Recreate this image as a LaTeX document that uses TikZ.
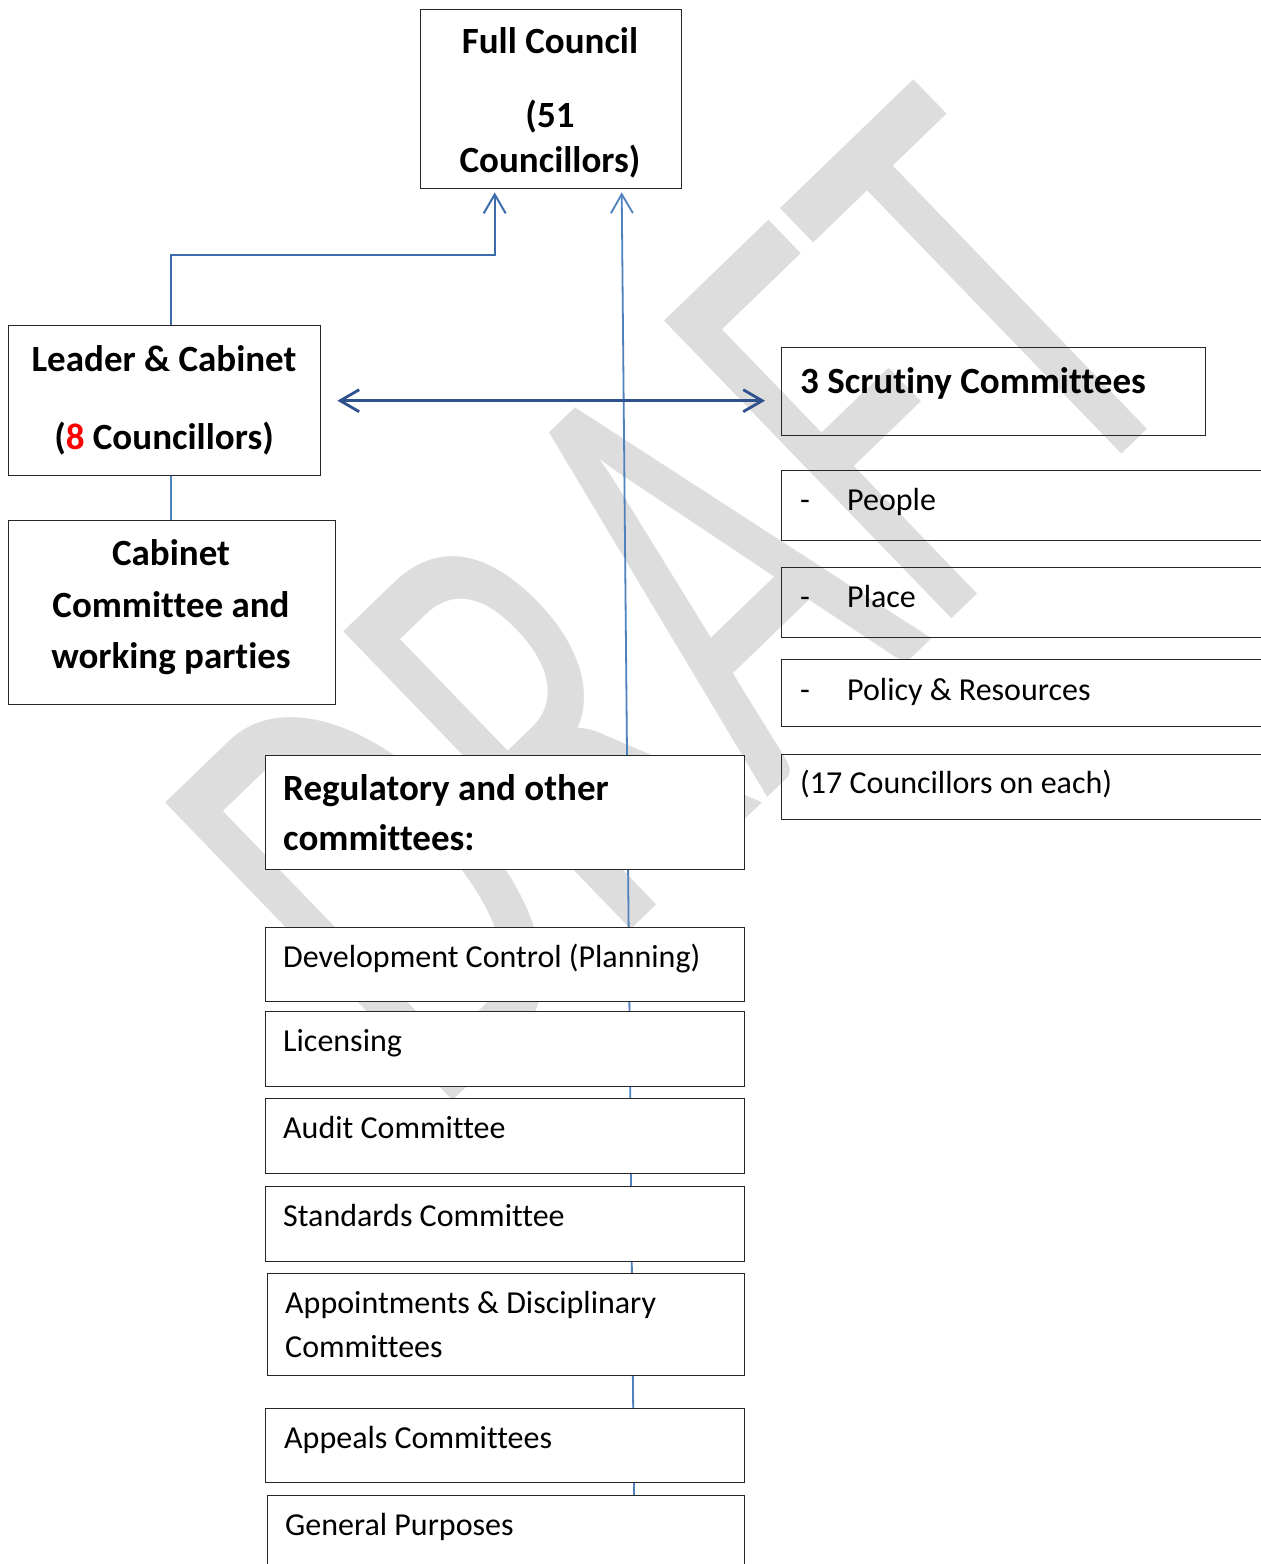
\documentclass[tikz,border=0pt]{standalone}
\usepackage{fontspec}
\setmainfont{Carlito}[Ligatures={NoCommon}]
\usetikzlibrary{arrows.meta}
\definecolor{wm}{RGB}{221,221,221}
\definecolor{boxline}{RGB}{38,38,38}
\definecolor{elbowblue}{RGB}{62,108,172}
\definecolor{vblue}{RGB}{79,129,189}
\definecolor{hblue}{RGB}{47,82,143}
\begin{document}
\begin{tikzpicture}[x=1pt,y=-1pt,
  box/.style={draw=boxline, line width=1.4pt, fill=white, anchor=north west, inner sep=0pt},
  obox/.style={draw=boxline, line width=1.4pt, anchor=north west, inner sep=0pt},
  bt/.style={font=\fontsize{37}{42}\selectfont\bfseries, inner sep=0pt, anchor=base},
  btl/.style={font=\fontsize{37}{42}\selectfont\bfseries, inner sep=0pt, anchor=base west},
  rt/.style={font=\fontsize{32}{38}\selectfont, inner sep=0pt, anchor=base west},
  elbow/.style={draw=elbowblue, line width=2pt, -{Straight Barb[length=19pt,width=22pt]}},
  cline/.style={draw=vblue, line width=1.8pt},
  vline/.style={draw=vblue, line width=1.8pt, -{Straight Barb[length=19pt,width=22pt]}},
  hline/.style={draw=hblue, line width=2.8pt, {Straight Barb[length=19pt,width=22pt]}-{Straight Barb[length=19pt,width=22pt]}}]
\useasboundingbox (0,0) rectangle (1261,1564);
\fill[white] (0,0) rectangle (1261,1564);
\clip (0,0) rectangle (1261,1564);

% watermark
\node[font=\fontsize{645}{645}\selectfont, text=wm, inner sep=0pt, anchor=base west, rotate=44] (wmark) at (433,1120) {\scalebox{0.62}[1]{DRAFT}};

% named coordinates for connectors
\coordinate (vb) at (634,1495);

% boxes referenced by connectors
\path (420,9) node[box, minimum width=261pt, minimum height=179pt] (fc) {};
\path (8,325) node[box, minimum width=312pt, minimum height=150pt] (lc) {};
\path (8,520) node[box, minimum width=327pt, minimum height=184pt] (cc) {};
\path (781,347) node[obox, minimum width=424pt, minimum height=88pt] (sc) {};

\coordinate (hr) at (lc.east -| sc.west);
\coordinate (lcs) at ([xshift=6pt]lc.south);

% connectors
\draw[vline] (vb) -- ([xshift=70.5pt,yshift=-3pt]fc.south);
\draw[elbow] ([xshift=6pt]lc.north) -- ++(0,-70) -| ([xshift=-56.5pt,yshift=-3pt]fc.south);
\draw[cline] (lcs) -- (lcs |- cc.north);
\draw[hline] ([xshift=16pt]lc.east) -- ([xshift=-16pt]hr);

% boxes on top of connectors
\path (420,9) node[box, minimum width=261pt, minimum height=179pt] (fcb) {};
\path (8,325) node[box, minimum width=312pt, minimum height=150pt] (lcb) {};
\path (8,520) node[box, minimum width=327pt, minimum height=184pt] (ccb) {};
\path (781,470) node[obox, minimum width=520pt, minimum height=70pt] (people) {};
\path (781,567) node[obox, minimum width=520pt, minimum height=70pt] (place) {};
\path (781,659) node[obox, minimum width=520pt, minimum height=67pt] (pr) {};
\path (781,754) node[obox, minimum width=520pt, minimum height=65pt] (sev) {};
\path (265,755) node[box, minimum width=479pt, minimum height=114pt] (reg) {};
\path (265,927) node[box, minimum width=479pt, minimum height=74pt] (dev) {};
\path (265,1011) node[box, minimum width=479pt, minimum height=75pt] (lic) {};
\path (265,1098) node[box, minimum width=479pt, minimum height=75pt] (aud) {};
\path (265,1186) node[box, minimum width=479pt, minimum height=75pt] (std) {};
\path (267,1273) node[box, minimum width=477pt, minimum height=102pt] (app) {};
\path (265,1408) node[box, minimum width=479pt, minimum height=74pt] (appl) {};
\path (267,1495) node[box, minimum width=477pt, minimum height=100pt] (gp) {};

% texts
\node[bt] (fct1) at (550,53) {Full Council};
\node[bt] (fct2) at (550,127) {(51};
\node[bt] (fct3) at (550,172) {Councillors)};
\node[bt] (lct1) at (164,371) {Leader \& Cabinet};
\node[bt] (lct2) at (164,449) {(\textcolor{red}{8} Councillors)};
\node[bt] (cct1) at (171,565) {Cabinet};
\node[bt] (cct2) at (171,617) {Committee and};
\node[bt] (cct3) at (171,668) {working parties};
\node[btl] (sct) at (800,393) {3 Scrutiny Committees};
\node[rt] (pe1) at (800,510) {-};
\node[rt] (pe2) at (847,510) {People};
\node[rt] (pl1) at (800,607) {-};
\node[rt] (pl2) at (847,607) {Place};
\node[rt] (pr1) at (800,700) {-};
\node[rt] (pr2) at (847,700) {Policy \& Resources};
\node[rt] (sevt) at (800,793) {(17 Councillors on each)};
\node[btl] (regt1) at (283,800) {Regulatory and other};
\node[btl] (regt2) at (283,850) {committees:};
\node[rt] (devt) at (283,967) {Development Control (Planning)};
\node[rt] (lict) at (283,1051) {Licensing};
\node[rt] (audt) at (283,1138) {Audit Committee};
\node[rt] (stdt) at (283,1226) {Standards Committee};
\node[rt] (appt1) at (285,1313) {Appointments \& Disciplinary};
\node[rt] (appt2) at (285,1357) {Committees};
\node[rt] (applt) at (284,1448) {Appeals Committees};
\node[rt] (gpt) at (285,1535) {General Purposes};
\end{tikzpicture}
\end{document}
